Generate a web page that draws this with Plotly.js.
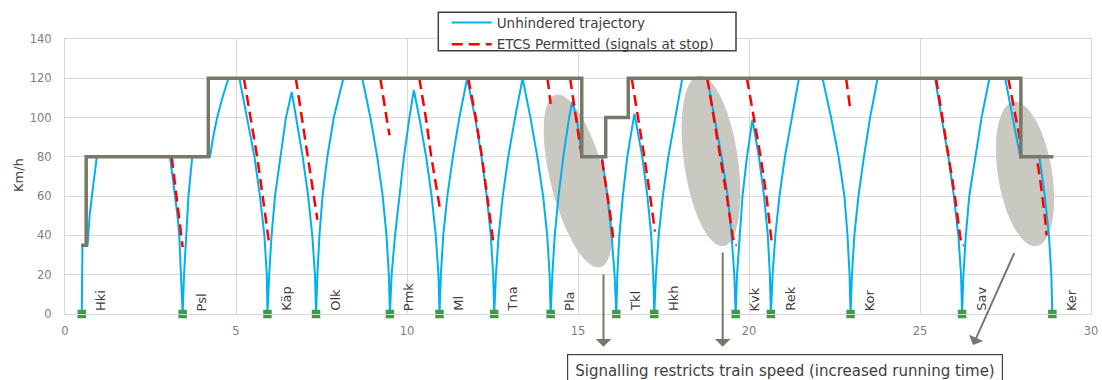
<!DOCTYPE html>
<html>
<head>
<meta charset="utf-8">
<script src="https://cdn.plot.ly/plotly-3.0.1.min.js"></script>
<style>html,body{margin:0;padding:0;background:#fff}#chart{width:1102px;height:380px}</style>
</head>
<body>
<div id="chart"></div>
<script>
// ---------- data ----------
const stationNames = ['Hki','Psl','Käp','Olk','Pmk','Ml','Tna','Pla','Tkl','Hkh','Kvk','Rek','Kor','Sav','Ker'];
const stationKm    = [0.49, 3.44, 5.92, 7.34, 9.50, 10.95, 12.55, 14.20, 16.12, 17.23, 19.61, 20.64, 22.97, 26.23, 28.87];

const limitKm    = [0.47, 0.62, 0.62, 4.19, 4.19, 15.11, 15.11, 15.81, 15.81, 16.47, 16.47, 27.95, 27.95, 28.90];
const limitSpeed = [35,   35,   80,   80,   120,  120,   80,    80,    100,   100,   120,   120,   80,    80];

const unhinderedKm = [
  0.49,0.50,0.51,0.66,0.72,0.80,0.87,0.93,
  3.07,3.15,3.23,3.29,3.34,3.40,3.44,
  3.48,3.54,3.61,3.72,4.24,4.33,4.45,4.60,4.78,
  5.10,5.33,5.54,5.70,5.83,5.90,5.92,
  5.97,6.04,6.14,6.29,6.46,6.63,
  6.76,6.95,7.11,7.23,7.31,7.34,
  7.38,7.44,7.53,7.67,7.86,8.14,
  8.69,8.93,9.13,9.29,9.40,9.47,9.50,
  9.55,9.65,9.77,9.91,10.07,10.20,
  10.36,10.56,10.72,10.84,10.92,10.95,
  10.99,11.06,11.18,11.34,11.53,11.76,
  11.99,12.18,12.33,12.45,12.52,12.55,
  12.60,12.68,12.80,12.96,13.16,13.38,
  13.61,13.81,13.98,14.10,14.17,14.20,
  14.25,14.32,14.43,14.57,14.74,14.83,
  14.96,15.03,15.09,15.12,15.70,15.78,15.86,15.98,16.07,16.12,
  16.15,16.21,16.31,16.44,16.62,16.65,
  16.88,17.03,17.14,17.20,17.23,
  17.28,17.36,17.48,17.64,17.84,18.05,
  18.78,19.00,19.20,19.38,19.49,19.57,19.61,
  19.65,19.72,19.81,19.94,20.10,
  20.29,20.44,20.55,20.61,20.64,
  20.69,20.77,20.89,21.05,21.25,21.46,
  22.15,22.40,22.62,22.79,22.88,22.94,22.97,
  23.01,23.08,23.20,23.36,23.54,23.76,
  25.44,25.63,25.83,25.99,26.12,26.20,26.23,
  26.27,26.34,26.44,26.61,26.80,27.03,
  27.49,27.71,27.82,27.93,28.49,28.57,28.65,28.77,28.84,28.87
];
const unhinderedSpeed = [
  0,20,35,35,50,62,72,80,
  80,70,60,50,40,20,0,
  20,40,60,80,80,90,100,110,120,
  120,100,80,60,40,20,0,
  20,40,60,80,100,113,
  100,80,60,40,20,0,
  20,40,60,80,100,120,
  120,100,80,60,40,20,0,
  20,40,60,80,100,114,
  100,80,60,40,20,0,
  20,40,60,80,100,120,
  100,80,60,40,20,0,
  20,40,60,80,100,120,
  100,80,60,40,20,0,
  20,40,60,80,100,108,
  100,92,83,80,80,70,60,40,20,0,
  20,40,60,80,100,102,
  80,60,40,20,0,
  20,40,60,80,100,120,
  120,100,80,60,40,20,0,
  20,40,60,80,99,
  80,60,40,20,0,
  20,40,60,80,100,120,
  120,100,80,60,40,20,0,
  20,40,60,80,100,120,
  120,100,80,60,40,20,0,
  20,40,60,80,100,120,
  120,100,90,80,80,70,60,40,20,0
];

const etcsKm = [
  3.12,3.19,3.26,3.33,3.39,3.44,null,
  5.23,5.43,5.62,5.78,5.89,5.96,null,
  6.75,6.92,7.09,7.28,7.38,null,
  9.22,9.32,9.41,9.49,null,
  10.36,10.55,10.71,10.84,10.92,10.96,null,
  11.79,12.01,12.19,12.35,12.49,12.52,null,
  14.11,14.15,14.20,null,
  14.77,14.87,14.97,15.06,15.11,15.69,15.80,15.90,15.98,16.04,null,
  16.57,16.76,16.94,17.11,17.25,null,
  18.78,18.97,19.17,19.35,19.52,19.58,19.64,null,
  19.94,20.14,20.34,20.51,20.66,null,
  22.84,22.90,22.97,null,
  25.47,25.66,25.85,26.02,26.17,26.22,26.28,null,
  27.58,27.75,27.90,27.95,28.41,28.50,28.58,28.65,28.70
];
const etcsSpeed = [
  80,70,60,50,42,34,null,
  120,100,80,60,46,37,null,
  120,100,80,60,48,null,
  120,108,99,91,null,
  120,100,80,66,59,54,null,
  120,100,80,60,40,37,null,
  120,113,107,null,
  120,108,96,85,80,80,68,56,46,37,null,
  120,100,80,60,42,null,
  120,100,80,60,40,35,35,null,
  120,100,80,60,37,null,
  120,112,103,null,
  120,100,80,60,40,35,35,null,
  120,104,91,80,80,70,60,50,40
];

const legendNames = ['Unhindered trajectory', 'ETCS Permitted (signals at stop)'];
const yAxisTitle = 'Km/h';
const calloutText = 'Signalling restricts train speed (increased running time)';

// ---------- layout helpers ----------
const W = 1102, H = 380;
const M = {l:65, r:11, t:39, b:66, autoexpand:false};
const plotW = W - M.l - M.r, plotH = H - M.t - M.b;
const xRange = [0, 30], yRange = [0, 140];
const kx = (xRange[1]-xRange[0]) / plotW, ky = (yRange[1]-yRange[0]) / plotH;
const pxToPaperX = px => (px - M.l) / plotW;
const pxToPaperY = py => (H - M.b - py) / plotH;

function ellipsePath(cpx, cpy, a, b, deg) {
  const th = deg * Math.PI / 180;
  const cx = xRange[0] + (cpx - M.l) * kx;
  const cy = yRange[0] + (H - M.b - cpy) * ky;
  let d = '';
  for (let i = 0; i <= 90; i++) {
    const t = i / 90 * 2 * Math.PI;
    const ux = a * Math.cos(t) * Math.sin(th) + b * Math.sin(t) * Math.cos(th);
    const uy = a * Math.cos(t) * Math.cos(th) - b * Math.sin(t) * Math.sin(th);
    d += (i ? 'L' : 'M') + (cx + ux * kx).toFixed(4) + ',' + (cy - uy * ky).toFixed(3);
  }
  return d + 'Z';
}

const FONT = 'DejaVu Sans, Verdana, sans-serif';
const DARK = '#404040';
const LIMIT_COLOR = '#78786a';

const traces = [
  {x: unhinderedKm, y: unhinderedSpeed, type:'scatter', mode:'lines', name: legendNames[0],
   legendgroup:'a', line:{color:'#00b0f0', width:2}, cliponaxis:false},
  {x: etcsKm, y: etcsSpeed, type:'scatter', mode:'lines', name: legendNames[1],
   legendgroup:'b', line:{color:'#ff0000', width:2.5, dash:'11px,6px'}, connectgaps:false},
  {x: limitKm, y: limitSpeed, type:'scatter', mode:'lines', showlegend:false,
   line:{color:LIMIT_COLOR, width:3.5}},
  {x: stationKm, y: stationKm.map(() => 0), type:'scatter', mode:'markers', showlegend:false,
   marker:{symbol:'square', size:8.5, color:'#3a9d45', line:{width:0}}, cliponaxis:false}
];

const annotations = stationNames.map((n, i) => ({
  x: stationKm[i] + 0.30, y: 0, xref:'x', yref:'y', text:n, textangle:-90,
  showarrow:false, xanchor:'left', yanchor:'bottom', yshift:2, borderpad:0,
  font:{family:FONT, size:13, color:DARK}
}));

annotations.push({
  x: pxToPaperX(18.5), y: pxToPaperY(175.5), xref:'paper', yref:'paper', text:yAxisTitle, textangle:-90,
  showarrow:false, xanchor:'center', yanchor:'middle', font:{family:FONT, size:13, color:DARK}
});

// arrows
[[603.5, 346.7, 0, -73.7], [722.7, 346.7, 0, -95.7], [973, 345, 42, -93.5]].forEach(a => {
  annotations.push({
    x: pxToPaperX(a[0]), y: pxToPaperY(a[1]), xref:'paper', yref:'paper', text:'',
    showarrow:true, ax:a[2], ay:a[3], arrowhead:1, arrowsize:1.3, arrowwidth:2,
    arrowcolor:LIMIT_COLOR, standoff:0, startstandoff:0
  });
});

annotations.push({
  x: pxToPaperX(784.5), y: pxToPaperY(354.3), xref:'paper', yref:'paper', text:calloutText,
  showarrow:false, xanchor:'center', yanchor:'top', bgcolor:'#ffffff',
  bordercolor:DARK, borderwidth:1.2, borderpad:7,
  font:{family:FONT, size:15, color:DARK}
});

const layout = {
  width:W, height:H, margin:M,
  paper_bgcolor:'#ffffff', plot_bgcolor:'#ffffff',
  font:{family:FONT, size:12, color:DARK},
  xaxis:{range:xRange, tick0:0, dtick:5, showgrid:true, gridcolor:'#d9d9d9', gridwidth:1,
         zeroline:false, showline:true, mirror:true, linecolor:'#d9d9d9', linewidth:1,
         tickfont:{family:FONT, size:11.5, color:'#808080'}, ticklabelstandoff:6, fixedrange:true, automargin:false},
  yaxis:{range:yRange, tick0:0, dtick:20, showgrid:true, gridcolor:'#d9d9d9', gridwidth:1,
         zeroline:false, showline:true, mirror:true, linecolor:'#d9d9d9', linewidth:1,
         tickfont:{family:FONT, size:11.5, color:'#808080'}, ticklabelstandoff:10, fixedrange:true, automargin:false},
  showlegend:true,
  legend:{x:pxToPaperX(446.7), y:pxToPaperY(7.3), xanchor:'left', yanchor:'top',
          bgcolor:'rgba(0,0,0,0)', borderwidth:0, tracegroupgap:1,
          font:{family:FONT, size:13.5, color:DARK}, itemwidth:40, traceorder:'grouped'},
  shapes:[
    {type:'path', xref:'x', yref:'y', path:ellipsePath(578, 181, 89, 27, 14.5), fillcolor:'#c9c9c1', line:{width:0}, layer:'between'},
    {type:'path', xref:'x', yref:'y', path:ellipsePath(711, 161, 86, 27, 8.2), fillcolor:'#c9c9c1', line:{width:0}, layer:'between'},
    {type:'path', xref:'x', yref:'y', path:ellipsePath(1025, 174, 73, 27, 9.2), fillcolor:'#c9c9c1', line:{width:0}, layer:'between'},
    {type:'rect', xref:'paper', yref:'paper', x0:pxToPaperX(438.3), x1:pxToPaperX(736),
     y0:pxToPaperY(50.7), y1:pxToPaperY(12.3), fillcolor:'#ffffff', line:{color:DARK, width:1.5}, layer:'above'}
  ],
  annotations: annotations
};

Plotly.newPlot('chart', traces, layout, {displayModeBar:false, staticPlot:true});
</script>
</body>
</html>
